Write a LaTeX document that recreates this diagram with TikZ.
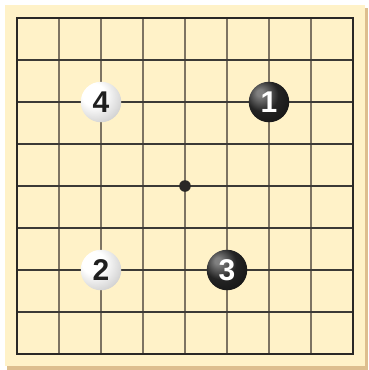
\documentclass[tikz,border=0pt]{standalone}
\usepackage{fontspec}
\setmainfont{Liberation Sans}
\definecolor{boardc}{HTML}{FFF2C8}
\definecolor{shadowc}{HTML}{DDBE8E}
\definecolor{hlinec}{HTML}{3C3A36}
\definecolor{vlinec}{HTML}{7E7462}
\definecolor{bordc}{HTML}{2A2826}
\pgfdeclareradialshading{wstone}{\pgfpoint{-12bp}{12bp}}{color(0bp)=(white); color(14bp)=(white); color(36bp)=(black!20); color(52bp)=(black!42); color(70bp)=(black!48)}
\pgfdeclareradialshading{bstone}{\pgfpoint{-12bp}{12bp}}{color(0bp)=(black!50); color(4bp)=(black!50); color(20bp)=(black!86); color(40bp)=(black!93); color(70bp)=(black!90)}
\tikzset{
  stonebase/.style={circle, minimum size=40.5pt, inner sep=0pt, shade,
    font=\bfseries\fontsize{30}{30}\selectfont},
  wst/.style={stonebase, shading=wstone, text=black!88},
  bst/.style={stonebase, shading=bstone, text=white},
  hline/.style={draw=hlinec, line width=1.1pt},
  vline/.style={draw=vlinec, line width=1.1pt},
}
\begin{document}
\begin{tikzpicture}[x=1pt,y=-1pt]
\useasboundingbox (0,0) rectangle (369,370);
\fill[white] (0,0) rectangle (369,370);
\fill[shadowc] (7,8) rectangle (368,370);
\fill[boardc] (5,5) rectangle (365,366);
\foreach \i in {1,...,7}{
  \draw[vline] ({17+42*\i},18) -- ({17+42*\i},354);
}
\foreach \i in {1,...,7}{
  \draw[hline] (17,{18+42*\i}) -- (353,{18+42*\i});
}
\draw[draw=bordc, line width=2.6pt] (17,18) rectangle (353,354);
\fill[bordc] (185,186) circle (5.8);
\node[wst] (s4) at (101,102) {4};
\node[bst] (s1) at (269,102) {1};
\node[wst] (s2) at (101,270) {2};
\node[bst] (s3) at (227,270) {3};
\end{tikzpicture}
\end{document}
